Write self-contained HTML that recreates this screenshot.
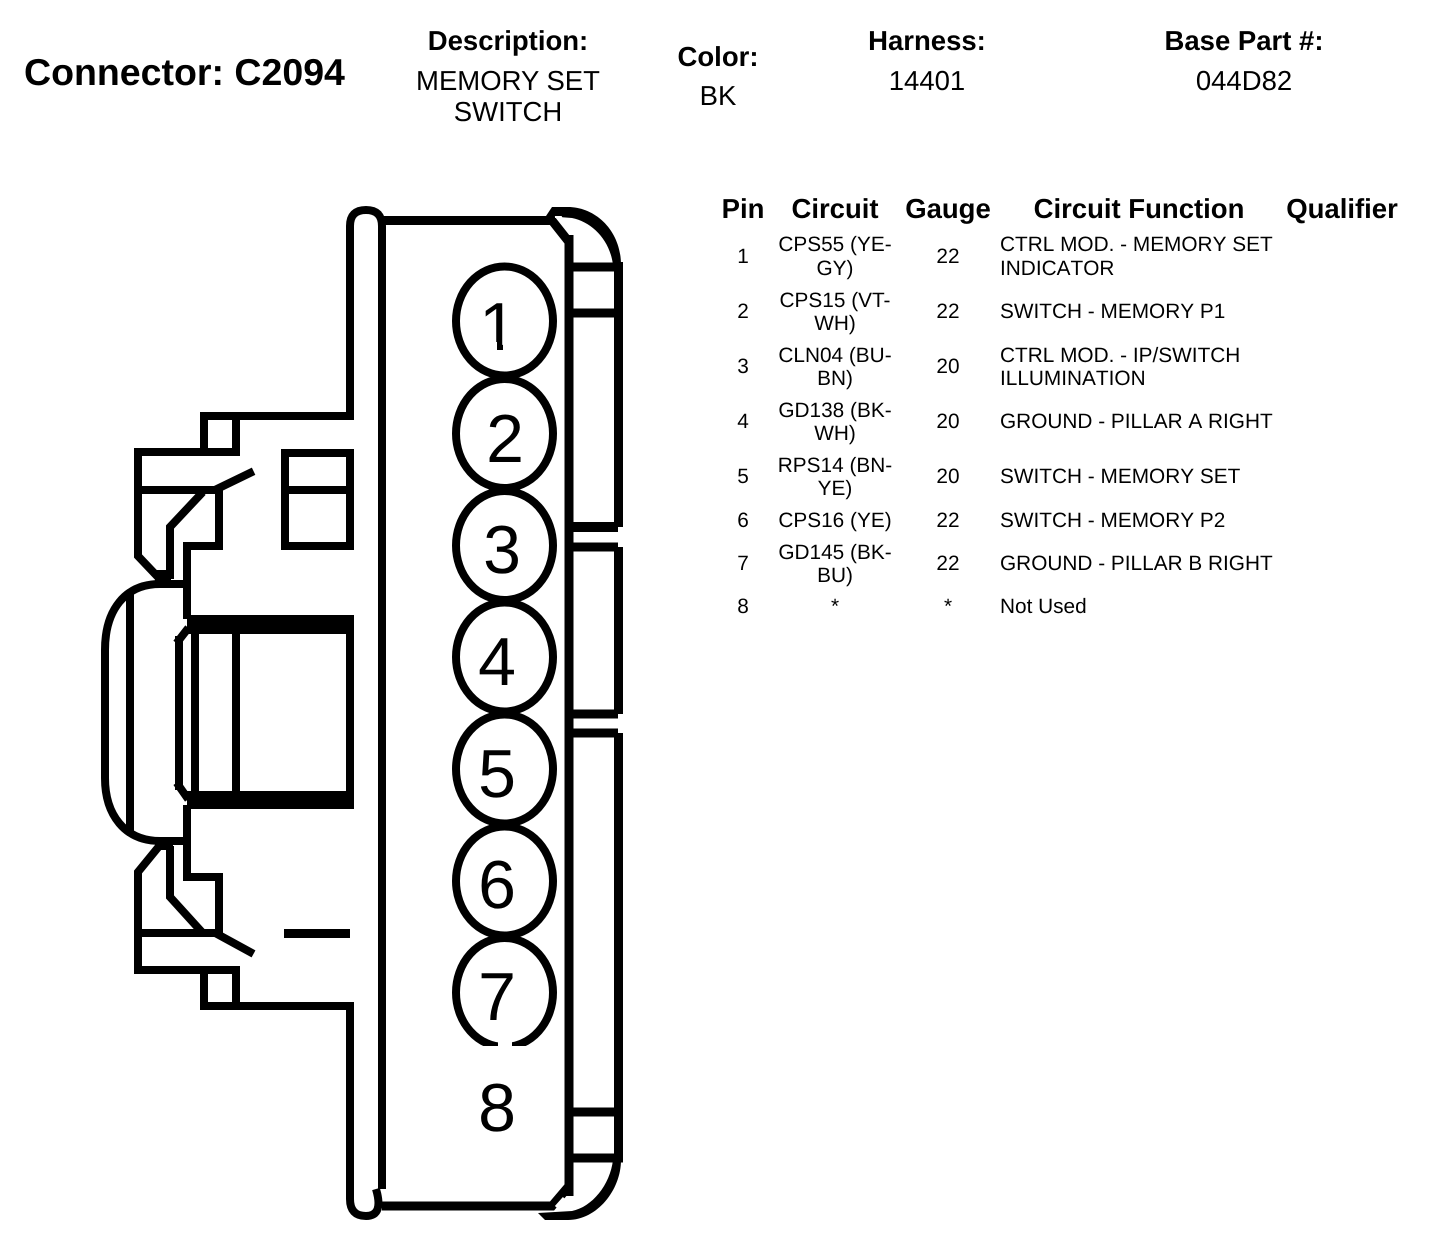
<!DOCTYPE html>
<html><head><meta charset="utf-8"><style>
html,body{margin:0;padding:0;background:#fff;width:1440px;height:1244px;overflow:hidden}
svg{display:block}
text{font-family:"Liberation Sans",sans-serif;fill:#000;text-rendering:geometricPrecision}
.b{font-weight:bold;font-size:27.5px;text-anchor:middle}
.r{font-size:27.5px;text-anchor:middle}
.c{font-size:20.8px;text-anchor:middle}
.f{font-size:20.8px;font-kerning:none}
.n{font-size:68px;text-anchor:middle}
.l{fill:none;stroke:#000;stroke-width:8;stroke-linecap:square;stroke-linejoin:miter}
.h{fill:none;stroke:#000;stroke-width:9;stroke-linecap:butt}
</style></head><body>
<svg width="1440" height="1244" viewBox="0 0 1440 1244" xmlns="http://www.w3.org/2000/svg">
<rect width="1440" height="1244" fill="#fff"/>
<text x="24" y="85" style="font-weight:bold;font-size:37.5px">Connector: C2094</text>
<text class="b" x="508" y="50">Description:</text>
<text class="r" x="508" y="90">MEMORY SET</text>
<text class="r" x="508" y="121">SWITCH</text>
<text class="b" x="718" y="66">Color:</text>
<text class="r" x="718" y="105">BK</text>
<text class="b" x="927" y="50">Harness:</text>
<text class="r" x="927" y="90">14401</text>
<text class="b" x="1244" y="50">Base Part #:</text>
<text class="r" x="1244" y="90">044D82</text>

<text class="b" x="743" y="218">Pin</text>
<text class="b" x="835" y="218">Circuit</text>
<text class="b" x="948" y="218">Gauge</text>
<text class="b" x="1139" y="218">Circuit Function</text>
<text class="b" x="1342" y="218">Qualifier</text>

<text class="c" x="743" y="263">1</text><text class="c" x="835" y="251">CPS55 (YE-</text><text class="c" x="835" y="275">GY)</text><text class="c" x="948" y="263">22</text><text class="f" x="1000" y="251">CTRL MOD. - MEMORY SET</text><text class="f" x="1000" y="275">INDICATOR</text>
<text class="c" x="743" y="318">2</text><text class="c" x="835" y="307">CPS15 (VT-</text><text class="c" x="835" y="330">WH)</text><text class="c" x="948" y="318">22</text><text class="f" x="1000" y="318">SWITCH - MEMORY P1</text>
<text class="c" x="743" y="373">3</text><text class="c" x="835" y="362">CLN04 (BU-</text><text class="c" x="835" y="385">BN)</text><text class="c" x="948" y="373">20</text><text class="f" x="1000" y="362">CTRL MOD. - IP/SWITCH</text><text class="f" x="1000" y="385">ILLUMINATION</text>
<text class="c" x="743" y="428">4</text><text class="c" x="835" y="417">GD138 (BK-</text><text class="c" x="835" y="440">WH)</text><text class="c" x="948" y="428">20</text><text class="f" x="1000" y="428">GROUND - PILLAR A RIGHT</text>
<text class="c" x="743" y="483">5</text><text class="c" x="835" y="472">RPS14 (BN-</text><text class="c" x="835" y="495">YE)</text><text class="c" x="948" y="483">20</text><text class="f" x="1000" y="483">SWITCH - MEMORY SET</text>
<text class="c" x="743" y="527">6</text><text class="c" x="835" y="527">CPS16 (YE)</text><text class="c" x="948" y="527">22</text><text class="f" x="1000" y="527">SWITCH - MEMORY P2</text>
<text class="c" x="743" y="570">7</text><text class="c" x="835" y="559">GD145 (BK-</text><text class="c" x="835" y="582">BU)</text><text class="c" x="948" y="570">22</text><text class="f" x="1000" y="570">GROUND - PILLAR B RIGHT</text>
<text class="c" x="743" y="613">8</text><text class="c" x="835" y="613">*</text><text class="c" x="948" y="613">*</text><text class="f" x="1000" y="613">Not Used</text>

<!-- main body -->
<path class="l" d="M350 412V226Q350 210 366 210Q382 210 382 226V1185"/>
<path class="l" style="stroke-linecap:butt" d="M350 1006V1199Q350 1216 366 1216Q384 1216 376 1189"/>
<path class="h" d="M382 220.500H552L569 242M382 1206H552L569 1186"/>
<path class="h" d="M569 235V1196"/>
<!-- domes -->
<path d="M546 216L552 207H568C595 207 621 230 621 265H613C610 240 592 222 572 218Z" fill="#000"/>
<path d="M621 1160C621 1190 597 1220 568 1220H545L538 1213L572 1211C592 1207 610 1185 613 1160Z" fill="#000"/>
<path d="M555 217L561 217L566 226" fill="none" stroke="#fff" stroke-width="2"/>
<path d="M556 1207L564 1198" fill="none" stroke="#fff" stroke-width="3"/>
<!-- right strip -->
<path class="h" d="M618.500 262V527M618.500 547V714M618.500 733V1160"/>
<path class="h" d="M573 267H623M573 313H618M573 1112H618M573 1158H623M573 714H618M573 733H618M573 547H618"/>
<path class="h" style="stroke-width:10" d="M573 527H618"/>

<!-- top latch -->
<path class="l" d="M350 416H204V452M236 416V452H138V556L156 575"/>
<path class="l" d="M138 490H219M219 490V546H187V615M219 488L250 473"/>
<path class="l" d="M170 575V527L200 495"/>
<rect x="155" y="570" width="16" height="12" fill="#000"/>
<path class="l" d="M285 453H350V546H285ZM285 490H350"/>

<!-- bottom latch -->
<path class="l" d="M350 1006H204V970M236 1006V970H138V872L156 850"/>
<path class="l" d="M138 933H219M219 933V877H187V809M219 935L250 952"/>
<path class="l" d="M170 850V897L200 930"/>
<rect x="155" y="841" width="18" height="9" fill="#000"/>
<rect x="284" y="929" width="66" height="9" fill="#000"/>

<!-- button -->
<rect x="187" y="615" width="167" height="19" fill="#000"/>
<rect x="187" y="791" width="167" height="18" fill="#000"/>
<path class="l" d="M195 634V791M236 634V791M350 634V791"/>
<path class="l" d="M179 640V786M179 640L186 631M179 786L186 796"/>
<path class="l" d="M187 584H160C125 584 105 610 105 650V778C105 815 125 841 160 841H187"/>
<path class="l" style="stroke-linecap:butt" d="M130 594V832"/>

<!-- pins -->
<g fill="none" stroke="#000" stroke-width="8">
<ellipse cx="504.500" cy="321" rx="48.500" ry="54.500"/>
<ellipse cx="504.500" cy="433.500" rx="48.500" ry="54.500"/>
<ellipse cx="504.500" cy="545.500" rx="48.500" ry="54.500"/>
<ellipse cx="504.500" cy="657" rx="48.500" ry="54.500"/>
<ellipse cx="504.500" cy="769" rx="48.500" ry="54.500"/>
<ellipse cx="504.500" cy="881" rx="48.500" ry="54.500"/>
<ellipse cx="504.500" cy="992.500" rx="48.500" ry="54.500"/>
</g>
<rect x="440" y="1046" width="120" height="12" fill="#fff"/>
<rect x="498" y="1036" width="14" height="12" fill="#fff"/>
<text class="n" x="498" y="350">1</text>
<rect x="476" y="342" width="21" height="10" fill="#fff"/>
<rect x="503" y="342" width="17" height="10" fill="#fff"/>
<text class="n" x="505" y="462">2</text>
<text class="n" x="502" y="573">3</text>
<text class="n" x="497" y="685">4</text>
<text class="n" x="497" y="797">5</text>
<text class="n" x="497" y="908">6</text>
<text class="n" x="497" y="1020">7</text>
<text class="n" x="497" y="1131">8</text>
</svg>
</body></html>
